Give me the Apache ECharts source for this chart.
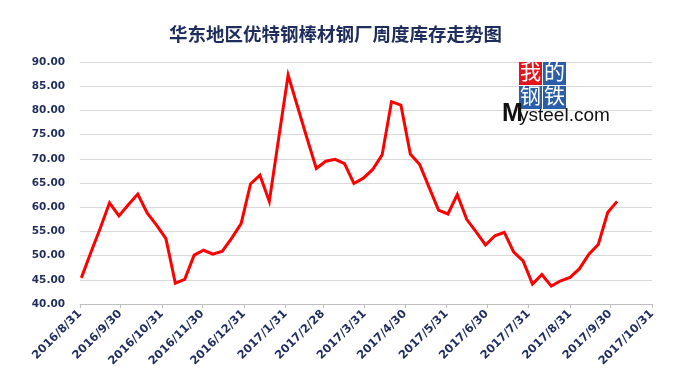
<!DOCTYPE html>
<html>
<head>
<meta charset="utf-8">
<script src="https://cdn.jsdelivr.net/npm/echarts@6/dist/echarts.min.js"></script>
<style>
html,body{margin:0;padding:0;background:#fff;}
#c{width:687px;height:382px;}
</style>
</head>
<body>
<div id="c"></div>
<script>
var titleText = '华东地区优特钢棒材钢厂周度库存走势图';

var dates = [
  '2016-09-01','2016-09-08','2016-09-15','2016-09-22','2016-09-29',
  '2016-10-06','2016-10-13','2016-10-20','2016-10-27',
  '2016-11-03','2016-11-10','2016-11-17','2016-11-24',
  '2016-12-01','2016-12-08','2016-12-15','2016-12-22','2016-12-29',
  '2017-01-05','2017-01-12','2017-01-19','2017-01-26',
  '2017-02-02','2017-02-09','2017-02-16','2017-02-23',
  '2017-03-02','2017-03-09','2017-03-16','2017-03-23','2017-03-30',
  '2017-04-06','2017-04-13','2017-04-20','2017-04-27',
  '2017-05-04','2017-05-11','2017-05-18','2017-05-25',
  '2017-06-01','2017-06-08','2017-06-15','2017-06-22','2017-06-29',
  '2017-07-06','2017-07-13','2017-07-20','2017-07-27',
  '2017-08-03','2017-08-10','2017-08-17','2017-08-24','2017-08-31',
  '2017-09-07','2017-09-14','2017-09-21','2017-09-28',
  '2017-10-05'
];

var inventory = [
  45.4, 50.6, 55.6, 60.9, 58.2,
  60.5, 62.7, 58.8, 56.3,
  53.5, 44.3, 45.1, 50.1,
  51.1, 50.3, 50.9, 53.6, 56.6,
  64.8, 66.6, 61.2, 74.3,
  87.3, 80.8, 74.3, 68.0,
  69.5, 69.9, 69.0, 64.9, 66.0,
  67.8, 70.8, 81.8, 81.1,
  71.0, 68.8, 64.1, 59.4,
  58.6, 62.6, 57.5, 54.9, 52.2,
  54.1, 54.8, 50.7, 48.9,
  44.1, 46.1, 43.7, 44.8, 45.5,
  47.3, 50.3, 52.3, 58.9,
  61.2
];

var tickDates = [
  '2016-08-31','2016-09-30','2016-10-31','2016-11-30','2016-12-31',
  '2017-01-31','2017-02-28','2017-03-31','2017-04-30','2017-05-31',
  '2017-06-30','2017-07-31','2017-08-31','2017-09-30','2017-10-31'
];

var yTicks = [40, 45, 50, 55, 60, 65, 70, 75, 80, 85, 90];

function ts(s) {
  var p = s.split('-');
  return new Date(+p[0], +p[1] - 1, +p[2]).getTime();
}

var tickValues = tickDates.map(ts);
var seriesData = dates.map(function (d, i) { return [ts(d), inventory[i]]; });

var navy = '#1f2d5c';
var chart = echarts.init(document.getElementById('c'), null, {renderer: 'canvas'});
chart.setOption({
  animation: false,
  backgroundColor: '#ffffff',
  title: {
    text: titleText,
    left: 164,
    top: 20,
    textStyle: {
      fontFamily: 'Noto Sans CJK SC',
      fontSize: 18.5,
      fontWeight: 'bold',
      color: navy
    }
  },
  grid: {left: 80, right: 35, top: 62, bottom: 78, containLabel: false},
  xAxis: {
    type: 'value',
    min: tickValues[0],
    max: tickValues[tickValues.length - 1],
    axisLine: {show: true, lineStyle: {color: '#bfbfbf', width: 1}},
    axisTick: {show: true, length: 4, lineStyle: {color: '#bfbfbf'}, customValues: tickValues},
    splitLine: {show: false},
    axisLabel: {
      customValues: tickValues,
      rotate: 45,
      margin: 8,
      fontFamily: 'DejaVu Sans',
      fontWeight: 'bold',
      fontSize: 11.5,
      color: navy,
      formatter: function (v) {
        var d = new Date(v);
        return d.getFullYear() + '/' + (d.getMonth() + 1) + '/' + d.getDate();
      }
    }
  },
  yAxis: {
    type: 'value',
    min: yTicks[0],
    max: yTicks[yTicks.length - 1],
    interval: 5,
    axisLine: {show: false},
    axisTick: {show: false},
    splitLine: {show: true, lineStyle: {color: '#d9d9d9', width: 1}},
    axisLabel: {
      margin: 15,
      fontFamily: 'DejaVu Sans',
      fontWeight: 'bold',
      fontSize: 10.5,
      color: navy,
      formatter: function (v) { return v.toFixed(2); }
    }
  },
  series: [{
    type: 'line',
    data: seriesData,
    showSymbol: false,
    symbol: 'none',
    lineStyle: {color: '#ff0000', width: 3, join: 'miter'},
    z: 3
  }],
  graphic: [
    {type: 'rect', left: 519, top: 62, shape: {width: 23, height: 23}, style: {fill: '#e2141c'}, z: 10},
    {type: 'rect', left: 543, top: 62, shape: {width: 23, height: 23}, style: {fill: '#2b5ea8'}, z: 10},
    {type: 'rect', left: 519, top: 86, shape: {width: 23, height: 23}, style: {fill: '#2b5ea8'}, z: 10},
    {type: 'rect', left: 543, top: 86, shape: {width: 23, height: 23}, style: {fill: '#2b5ea8'}, z: 10},
    {type: 'text', left: 520, top: 61, style: {text: '我', fill: '#fff', font: '21px "Noto Sans CJK SC"'}, z: 11},
    {type: 'text', left: 544, top: 61, style: {text: '的', fill: '#fff', font: '21px "Noto Sans CJK SC"'}, z: 11},
    {type: 'text', left: 520, top: 85, style: {text: '钢', fill: '#fff', font: '21px "Noto Sans CJK SC"'}, z: 11},
    {type: 'text', left: 544, top: 85, style: {text: '铁', fill: '#fff', font: '21px "Noto Sans CJK SC"'}, z: 11},
    {type: 'text', left: 502, top: 102, style: {text: 'M', fill: '#111', font: 'bold 25px "Liberation Sans"'}, z: 11},
    {type: 'text', left: 519, top: 106, style: {text: 'ysteel.com', fill: '#111', font: '19px "Liberation Sans"'}, z: 11}
  ]
});
</script>
</body>
</html>
